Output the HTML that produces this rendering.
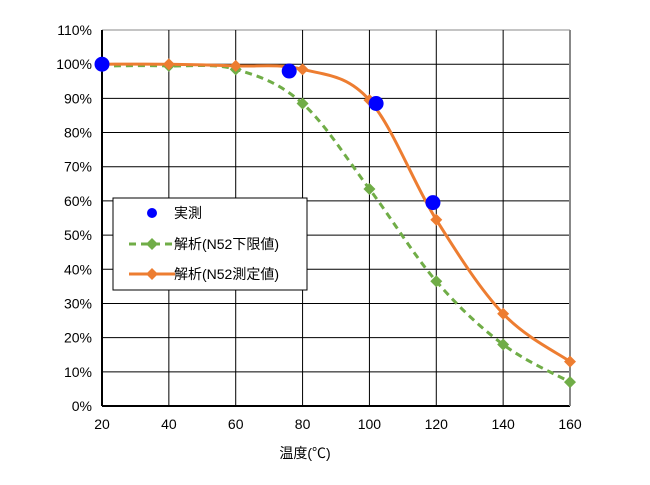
<!DOCTYPE html>
<html><head><meta charset="utf-8"><style>
body{margin:0;background:#fff;}
svg text{font-family:"Liberation Sans","Noto Sans CJK JP",sans-serif;font-size:14px;fill:#000;}
</style></head><body>
<svg id="s" width="650" height="480" xmlns="http://www.w3.org/2000/svg">
<g id="grid"></g>
<path id="g" fill="none" stroke="#70ad47" stroke-width="3" stroke-dasharray="7,5"/>
<path id="o" fill="none" stroke="#ed7d31" stroke-width="3"/>
<g id="mk"></g>
<rect x="113" y="198" width="194" height="92" fill="#fff" stroke="#000" stroke-width="1"/>
<circle cx="152" cy="213" r="5" fill="#0000ff"/>
<text x="174" y="218">実測</text>
<line x1="129" y1="244" x2="175" y2="244" stroke="#70ad47" stroke-width="3" stroke-dasharray="7,5"/>
<path d="M152 238 L158 244 L152 250 L146 244Z" fill="#70ad47"/>
<text x="174" y="249">解析(N52下限値)</text>
<line x1="129" y1="274" x2="175" y2="274" stroke="#ed7d31" stroke-width="3"/>
<path d="M152 268 L158 274 L152 280 L146 274Z" fill="#ed7d31"/>
<text x="174" y="279">解析(N52測定値)</text>
<text x="305" y="458" text-anchor="middle">温度(℃)</text>
</svg>
<script>
var X=t=>102+(t-20)*(468/140),Y=p=>406-p*3.418;
var g=document.getElementById('grid'),h='';
for(var p=0;p<=110;p+=10){var y=Y(p);h+=`<line x1="102" x2="570" y1="${y}" y2="${y}" stroke="${p==110?'#888':'#000'}" stroke-width="${p==0?2:1}"/>`;h+=`<text x="92" y="${y+5}" text-anchor="end">${p}%</text>`;}
for(var t=20;t<=160;t+=20){var x=X(t);h+=`<line y1="${Y(110)}" y2="406" x1="${x}" x2="${x}" stroke="${t==160?'#888':'#000'}" stroke-width="${t==20||t==160?2:1}"/>`;h+=`<text x="${x}" y="429" text-anchor="middle">${t}</text>`;}
g.innerHTML=h;
var T=[20,40,60,80,100,120,140,160];
var O=[100,100,99.5,98.5,89.5,54.5,27,13],G=[99.5,99.5,98.5,88.5,63.5,36.5,18,7];
function path(v){var P=T.map((t,i)=>[X(t),Y(v[i])]);var d='M'+P[0];for(var i=0;i<P.length-1;i++){var a=P[i-1]||P[i],b=P[i],c=P[i+1],e=P[i+2]||c;var k=0.17;d+=` C${b[0]+(c[0]-a[0])*k},${b[1]+(c[1]-a[1])*k} ${c[0]-(e[0]-b[0])*k},${c[1]-(e[1]-b[1])*k} ${c[0]},${c[1]}`;}return d;}
document.getElementById('o').setAttribute('d',path(O));
document.getElementById('g').setAttribute('d',path(G));
var m='';
function dia(x,y,c){return `<path d="M${x} ${y-6} L${x+6} ${y} L${x} ${y+6} L${x-6} ${y}Z" fill="${c}"/>`;}
T.forEach((t,i)=>{m+=dia(X(t),Y(G[i]),'#70ad47');});
T.forEach((t,i)=>{m+=dia(X(t),Y(O[i]),'#ed7d31');});
[[20,100],[76,98],[102,88.5],[119,59.5]].forEach(q=>{m+=`<circle cx="${X(q[0])}" cy="${Y(q[1])}" r="7.5" fill="#0000ff"/>`;});
document.getElementById('mk').innerHTML=m;
</script>
</body></html>
